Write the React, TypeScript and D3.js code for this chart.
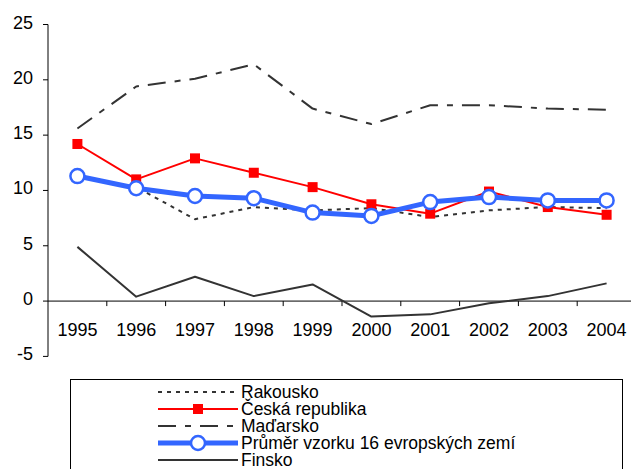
import { useEffect, useRef } from 'react'
import * as d3 from 'd3'

const years = ['1995', '1996', '1997', '1998', '1999', '2000', '2001', '2002', '2003', '2004']
const rakousko = [11.3, 10.3, 7.4, 8.5, 8.2, 8.4, 7.6, 8.2, 8.5, 8.4]
const ceskaRepublika = [14.2, 11.0, 12.9, 11.6, 10.3, 8.75, 7.9, 9.9, 8.5, 7.8]
const madarsko = [15.6, 19.4, 20.1, 21.4, 17.4, 16.0, 17.7, 17.7, 17.4, 17.3]
const prumer = [11.3, 10.2, 9.5, 9.3, 8.0, 7.7, 8.95, 9.4, 9.1, 9.1]
const finsko = [4.9, 0.4, 2.2, 0.45, 1.5, -1.4, -1.2, -0.2, 0.45, 1.6]
const yTicks = [-5, 0, 5, 10, 15, 20, 25]

const series = [
  { name: 'Rakousko', values: rakousko, color: '#333333', width: 2, dash: '4,5', marker: null },
  { name: 'Česká republika', values: ceskaRepublika, color: '#ff0000', width: 2, dash: null, marker: 'square' },
  { name: 'Maďarsko', values: madarsko, color: '#333333', width: 2, dash: '18,9,6,9', marker: null },
  { name: 'Průměr vzorku 16 evropských zemí', values: prumer, color: '#3366ff', width: 5, dash: null, marker: 'circle' },
  { name: 'Finsko', values: finsko, color: '#333333', width: 2, dash: null, marker: null },
]

function App() {
  const svgRef = useRef<SVGSVGElement>(null)
  const width = 631
  const height = 469

  useEffect(() => {
    const svg = d3.select(svgRef.current)
    svg.selectAll('*').remove()

    const left = 48
    const right = 636
    const x = d3.scaleBand().domain(years).range([left, right])
    const y = d3.scaleLinear().domain([-5, 25]).range([356.4, 24.5])
    const cx = (d: string) => (x(d) as number) + x.bandwidth() / 2

    const font = '"Liberation Sans", Arial, sans-serif'

    // eixo Y
    svg.append('line')
      .attr('x1', left).attr('x2', left)
      .attr('y1', y(25)).attr('y2', y(-5))
      .attr('stroke', '#000').attr('stroke-width', 1)
    yTicks.forEach(t => {
      svg.append('line')
        .attr('x1', left - 5).attr('x2', left)
        .attr('y1', y(t)).attr('y2', y(t))
        .attr('stroke', '#000')
      svg.append('text')
        .attr('x', 33).attr('y', y(t) + 4)
        .attr('text-anchor', 'end')
        .attr('font-family', font)
        .attr('font-size', '18px')
        .text(t)
    })

    // eixo X na linha do zero
    svg.append('line')
      .attr('x1', left).attr('x2', right)
      .attr('y1', y(0)).attr('y2', y(0))
      .attr('stroke', '#000')
    years.forEach((yr, i) => {
      const xb = x(yr) as number
      if (i > 0) {
        svg.append('line')
          .attr('x1', xb).attr('x2', xb)
          .attr('y1', y(0)).attr('y2', y(0) + 5)
          .attr('stroke', '#000')
      }
      svg.append('text')
        .attr('x', cx(yr)).attr('y', 336)
        .attr('text-anchor', 'middle')
        .attr('font-family', font)
        .attr('font-size', '18px')
        .text(yr)
    })
    svg.append('line')
      .attr('x1', right).attr('x2', right)
      .attr('y1', y(0)).attr('y2', y(0) + 5)
      .attr('stroke', '#000')

    const line = d3.line<number>()
      .x((_, i) => cx(years[i]))
      .y(d => y(d))

    const drawMarker = (g: any, s: any, px: number, py: number) => {
      if (s.marker === 'square') {
        g.append('rect')
          .attr('x', px - 5).attr('y', py - 5)
          .attr('width', 10).attr('height', 10)
          .attr('fill', s.color)
      } else if (s.marker === 'circle') {
        g.append('circle')
          .attr('cx', px).attr('cy', py).attr('r', 7)
          .attr('fill', '#fff')
          .attr('stroke', s.color)
          .attr('stroke-width', 2.5)
      }
    }

    series.forEach(s => {
      const g = svg.append('g')
      g.append('path')
        .datum(s.values)
        .attr('d', line)
        .attr('fill', 'none')
        .attr('stroke', s.color)
        .attr('stroke-width', s.width)
        .attr('stroke-dasharray', s.dash)
        .attr('stroke-linejoin', 'round')
      s.values.forEach((v, i) => drawMarker(g, s, cx(years[i]), y(v)))
    })

    // legenda
    const legend = svg.append('g')
    legend.append('rect')
      .attr('x', 70.5).attr('y', 379.5)
      .attr('width', 552).attr('height', 120)
      .attr('fill', '#fff')
      .attr('stroke', '#000')
    series.forEach((s, i) => {
      const baseline = 398 + i * 17
      const ly = baseline - 6
      const g = legend.append('g')
      g.append('line')
        .attr('x1', 158).attr('x2', 238)
        .attr('y1', ly).attr('y2', ly)
        .attr('stroke', s.color)
        .attr('stroke-width', s.width)
        .attr('stroke-dasharray', s.dash)
      drawMarker(g, s, 198, ly)
      g.append('text')
        .attr('x', 241).attr('y', baseline)
        .attr('font-family', font)
        .attr('font-size', '17.5px')
        .text(s.name)
    })
  }, [])

  return (
    <svg
      ref={svgRef}
      width={width}
      height={height}
      style={{ position: 'absolute', left: 0, top: 0, background: '#fff', overflow: 'hidden' }}
    />
  )
}

export default App
